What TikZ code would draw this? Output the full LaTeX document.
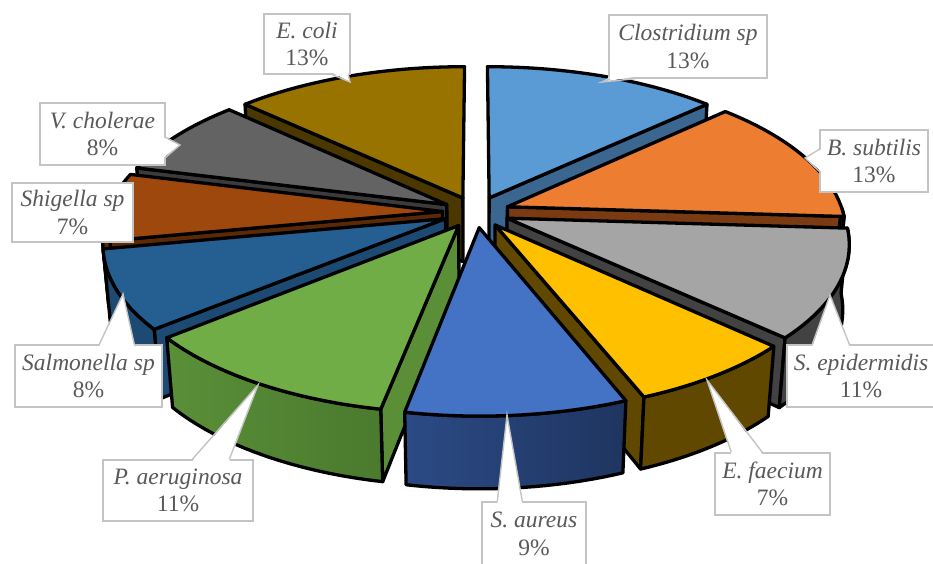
\documentclass[tikz,border=0pt]{standalone}
\usepackage{fontspec}
\setmainfont{Liberation Serif}
\usetikzlibrary{positioning}

\definecolor{ecoli}{HTML}{997300}
\definecolor{ecoliside}{HTML}{4A3800}
\definecolor{clostr}{HTML}{5B9BD5}
\definecolor{clostrside}{HTML}{3A6690}
\definecolor{vchol}{HTML}{636363}
\definecolor{vcholside}{HTML}{3B3B3B}
\definecolor{bsubt}{HTML}{ED7D31}
\definecolor{bsubtside}{HTML}{7A3A12}
\definecolor{shig}{HTML}{9E480E}
\definecolor{shigside}{HTML}{5C2906}
\definecolor{sepid}{HTML}{A5A5A5}
\definecolor{sepidside}{HTML}{424242}
\definecolor{salmo}{HTML}{255E91}
\definecolor{salmoside}{HTML}{1C4A72}
\definecolor{efaec}{HTML}{FFC000}
\definecolor{efaecside}{HTML}{604800}
\definecolor{paeru}{HTML}{70AD47}
\definecolor{paeruside}{HTML}{5A8F38}
\definecolor{paerudark}{HTML}{4A7A2E}
\definecolor{saur}{HTML}{4472C4}
\definecolor{saurside}{HTML}{2B4A85}
\definecolor{saurdark}{HTML}{1F3560}
\definecolor{labelgray}{HTML}{595959}
\definecolor{calloutgray}{HTML}{C4C4C4}

% camera and pie
\def\cenx{476}
\def\ceny{351}
\def\focal{1980}
\def\camD{5.9}
\def\elev{27.5}
\def\explode{0.1}
\def\piethick{0.22}

\pgfkeys{/pie/.cd, m/.store in=\piem, a/.store in=\piea, r/.store in=\pier, h/.store in=\pieh}

% (pie cs:m=mid angle,a=angle,r=radius,h=height) seen in perspective
\tikzdeclarecoordinatesystem{pie}{%
  \pgfkeys{/pie/.cd,#1}%
  \pgfmathsetmacro\pieX{(\explode)*cos(\piem)+(\pier)*cos(\piea)}%
  \pgfmathsetmacro\pieZ{(\explode)*sin(\piem)+(\pier)*sin(\piea)}%
  \pgfmathsetmacro\pieW{(\camD)+(\pieZ)*cos(\elev)-(\pieh)*sin(\elev)}%
  \pgfmathsetmacro\piex{(\cenx)+(\focal)*(\pieX)/(\pieW)}%
  \pgfmathsetmacro\piey{(\ceny)+(\focal)*((\pieZ)*sin(\elev)+(\pieh)*cos(\elev))/(\pieW)}%
  \pgfpoint{\piex pt}{\piey pt}}

\tikzstyle{slice} = [draw=black, line width=3.3pt, line join=round]
\tikzstyle{callout} = [rectangle, 
draw=calloutgray, 
line width=1.4pt, 
fill=white, 
text=labelgray, 
align=center, 
inner sep=0pt, 
font=\fontsize{23.5}{27.5}\selectfont]
\tikzstyle{pointer} = [draw=calloutgray, line width=1.4pt]

% wall: mid, angle, colour
\newcommand{\piewall}[3]{%
  \filldraw[slice, fill=#3] (pie cs:m=#1,a=#2,r=0,h=0) -- (pie cs:m=#1,a=#2,r=1,h=0)
    -- (pie cs:m=#1,a=#2,r=1,h=-\piethick) -- (pie cs:m=#1,a=#2,r=0,h=-\piethick) -- cycle;}
% outer side: mid, from, to, left colour, right colour
\newcommand{\pieband}[5]{%
  \filldraw[slice, left color=#4, right color=#5]
    plot[domain=#2:#3, samples=20, variable=\t] (pie cs:m=#1,a=\t,r=1,h=0)
    -- plot[domain=#3:#2, samples=20, variable=\t] (pie cs:m=#1,a=\t,r=1,h=-\piethick) -- cycle;}
% top face: mid, from, to, colour
\newcommand{\pietop}[4]{%
  \filldraw[slice, fill=#4] (pie cs:m=#1,a=#2,r=0,h=0)
    -- plot[domain=#2:#3, samples=24, variable=\t] (pie cs:m=#1,a=\t,r=1,h=0) -- cycle;}
% callout wedge: base 1, base 2, tip, inward shift
\newcommand{\pointer}[4]{%
  \fill[white] ([shift={#4}]#1) -- (#3) -- ([shift={#4}]#2) -- cycle;
  \draw[pointer] (#1) -- (#3) -- (#2);}

\begin{document}
\begin{tikzpicture}[x=1pt, y=1pt]
\useasboundingbox (0,0) rectangle (933,563);

% back slices first
\piewall{113.4}{136.8}{ecoliside}
\pietop{113.4}{136.8}{90}{ecoli}

\piewall{66.6}{43.2}{clostrside}
\pietop{66.6}{90}{43.2}{clostr}

\piewall{151.2}{165.6}{vcholside}
\pietop{151.2}{165.6}{136.8}{vchol}

\piewall{19.8}{-3.6}{bsubtside}
\pieband{19.8}{0}{-3.6}{bsubtside}{bsubtside}
\pietop{19.8}{43.2}{-3.6}{bsubt}

\piewall{-181.8}{-169.2}{shigside}
\pieband{-181.8}{-169.2}{-180}{shigside}{shigside}
\pietop{-181.8}{-169.2}{-194.4}{shig}

\piewall{-23.4}{-43.2}{sepidside}
\pieband{-23.4}{-3.6}{-43.2}{sepidside}{sepidside}
\pietop{-23.4}{-3.6}{-43.2}{sepid}

\piewall{-154.8}{-140.4}{salmoside}
\pieband{-154.8}{-140.4}{-169.2}{salmoside}{salmoside}
\pietop{-154.8}{-140.4}{-169.2}{salmo}

\piewall{-55.8}{-68.4}{efaecside}
\pieband{-55.8}{-43.2}{-68.4}{efaecside}{efaecside}
\pietop{-55.8}{-43.2}{-68.4}{efaec}

\piewall{-120.6}{-100.8}{paeruside}
\pieband{-120.6}{-100.8}{-140.4}{paeruside}{paerudark}
\pietop{-120.6}{-100.8}{-140.4}{paeru}

% front slice last
\pieband{-84.6}{-68.4}{-100.8}{saurside}{saurdark}
\pietop{-84.6}{-68.4}{-100.8}{saur}

% labels
\node (ecolilbl) [callout, minimum width=86, minimum height=60] at (307,519) {\textit{E. coli}\\13\%};
\node (clostrlbl) [callout, minimum width=158, minimum height=63] at (688,516.5) {\textit{Clostridium sp}\\13\%};
\node (bsubtlbl) [callout, minimum width=108, minimum height=62] at (874,402) {\textit{B. subtilis}\\13\%};
\node (sepidlbl) [callout, minimum width=148, minimum height=62] at (861,187) {\textit{S. epidermidis}\\11\%};
\node (efaeclbl) [callout, minimum width=115, minimum height=62] at (772.5,79) {\textit{E. faecium}\\7\%};
\node (saurlbl) [callout, minimum width=104, minimum height=64] at (534,29) {\textit{S. aureus}\\9\%};
\node (paerulbl) [callout, minimum width=150, minimum height=61] at (178,72.5) {\textit{P. aeruginosa}\\11\%};
\node (salmolbl) [callout, minimum width=147, minimum height=62] at (88.5,187) {\textit{Salmonella sp}\\8\%};
\node (shiglbl) [callout, minimum width=121, minimum height=59] at (72.5,350.5) {\textit{Shigella sp}\\7\%};
\node (vchollbl) [callout, minimum width=125, minimum height=62] at (102.5,429) {\textit{V. cholerae}\\8\%};

% wedges of the labels
\coordinate (ecolitip) at (350,481);
\coordinate (ecolib1) at ([xshift=69]ecolilbl.south west);
\coordinate (ecolib2) at ([xshift=85]ecolilbl.south west);
\pointer{ecolib1}{ecolib2}{ecolitip}{(0,2)}

\coordinate (clostrtip) at (602,481);
\coordinate (clostrb1) at ([xshift=2]clostrlbl.south west);
\coordinate (clostrb2) at ([xshift=27]clostrlbl.south west);
\pointer{clostrb1}{clostrb2}{clostrtip}{(0,2)}

\coordinate (bsubttip) at (805,405);
\coordinate (bsubtb1) at ([yshift=-20]bsubtlbl.north west);
\coordinate (bsubtb2) at ([yshift=-42]bsubtlbl.north west);
\pointer{bsubtb1}{bsubtb2}{bsubttip}{(2,0)}

\coordinate (sepidtip) at (830,268);
\coordinate (sepidb1) at ([xshift=26]sepidlbl.north west);
\coordinate (sepidb2) at ([xshift=63]sepidlbl.north west);
\pointer{sepidb1}{sepidb2}{sepidtip}{(0,-2)}

\coordinate (efaectip) at (707,183);
\coordinate (efaecb1) at ([xshift=17]efaeclbl.north west);
\coordinate (efaecb2) at ([xshift=48]efaeclbl.north west);
\pointer{efaecb1}{efaecb2}{efaectip}{(0,-2)}

\coordinate (saurtip) at (507,148);
\coordinate (saurb1) at ([xshift=16]saurlbl.north west);
\coordinate (saurb2) at ([xshift=41]saurlbl.north west);
\pointer{saurb1}{saurb2}{saurtip}{(0,-2)}

\coordinate (paerutip) at (258,178);
\coordinate (paerub1) at ([xshift=90]paerulbl.north west);
\coordinate (paerub2) at ([xshift=127]paerulbl.north west);
\pointer{paerub1}{paerub2}{paerutip}{(0,-2)}

\coordinate (salmotip) at (123,269);
\coordinate (salmob1) at ([xshift=85]salmolbl.north west);
\coordinate (salmob2) at ([xshift=120]salmolbl.north west);
\pointer{salmob1}{salmob2}{salmotip}{(0,-2)}

\coordinate (vcholtip) at (180,418);
\coordinate (vcholb1) at ([yshift=-35]vchollbl.north east);
\coordinate (vcholb2) at ([yshift=-55]vchollbl.north east);
\pointer{vcholb1}{vcholb2}{vcholtip}{(-2,0)}

\end{tikzpicture}
\end{document}
